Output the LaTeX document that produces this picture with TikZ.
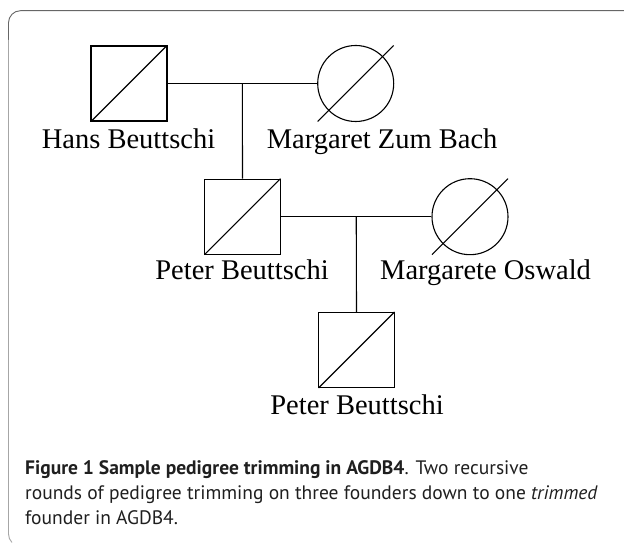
\documentclass[tikz,border=0pt]{standalone}
\usepackage{fontspec}
\setmainfont{Liberation Serif}
\newfontfamily\capfont{PT Sans}
\usepackage{tikz}
\usetikzlibrary{calc}

\tikzset{
  male/.style={draw, line width=1.1pt, rectangle, minimum width=76pt, minimum height=75pt, inner sep=0pt},
  female/.style={draw, line width=1.1pt, circle, minimum size=76pt, inner sep=0pt},
  pname/.style={font=\fontsize{28.5}{30}\selectfont, inner sep=0pt},
  capline/.style={font=\capfont\fontsize{19.5}{24}\selectfont, text=black!88, inner sep=0pt, anchor=base west},
  link/.style={line width=1.1pt}
}

\begin{document}
\begin{tikzpicture}[x=1pt, y=-1pt]
  \useasboundingbox (0,0) rectangle (624,545);

  % frame of the figure
  \draw[black!60, line width=0.9pt] (8.5,40) -- (8.5,22.7) arc[start angle=180, end angle=270, radius=12] -- (630,10.7);
  \draw[black!35, line width=0.9pt] (8.5,40) -- (8.5,534) arc[start angle=180, end angle=135, radius=12];

  % founders
  \node[male] (hans) at (129,83.5) {};
  \node[female] (margaret) at (355.7,83.5) {};
  \node[male] (peter) at (242.5,216.7) {};
  \node[female] (margarete) at (470,216.7) {};
  \node[male] (peterjr) at (356.5,350) {};

  % strike-through lines
  \foreach \p in {hans,margaret,peter,margarete,peterjr}
    \draw[link] ($(\p.center)+(-38pt,-38pt)$) -- ($(\p.center)+(38pt,38pt)$);

  % matings and descent
  \draw[link] (hans) -- (margaret) coordinate[midway] (m1);
  \draw[link] (m1) -- (peter.north);
  \draw[link] (peter) -- (margarete) coordinate[midway] (m2);
  \draw[link] (m2) -- (peterjr.north);

  % names
  \node[pname, anchor=base] (lhans) at (128.5,149) {Hans Beuttschi};
  \node[pname, anchor=base west] (lmargaret) at (266.7,149) {Margaret Zum Bach};
  \node[pname, anchor=base] (lpeter) at (242,280) {Peter Beuttschi};
  \node[pname, anchor=base west] (lmargarete) at (380,280) {Margarete Oswald};
  \node[pname, anchor=base] (lpeterjr) at (357,414) {Peter Beuttschi};

  % caption
  \node[capline] (cap1) at (25,474) {\textbf{Figure 1 Sample pedigree trimming in AGDB4}. Two recursive};
  \node[capline] (cap2) at (25,499) {rounds of pedigree trimming on three founders down to one \textit{trimmed}};
  \node[capline] (cap3) at (25,524) {founder in AGDB4.};
\end{tikzpicture}
\end{document}
